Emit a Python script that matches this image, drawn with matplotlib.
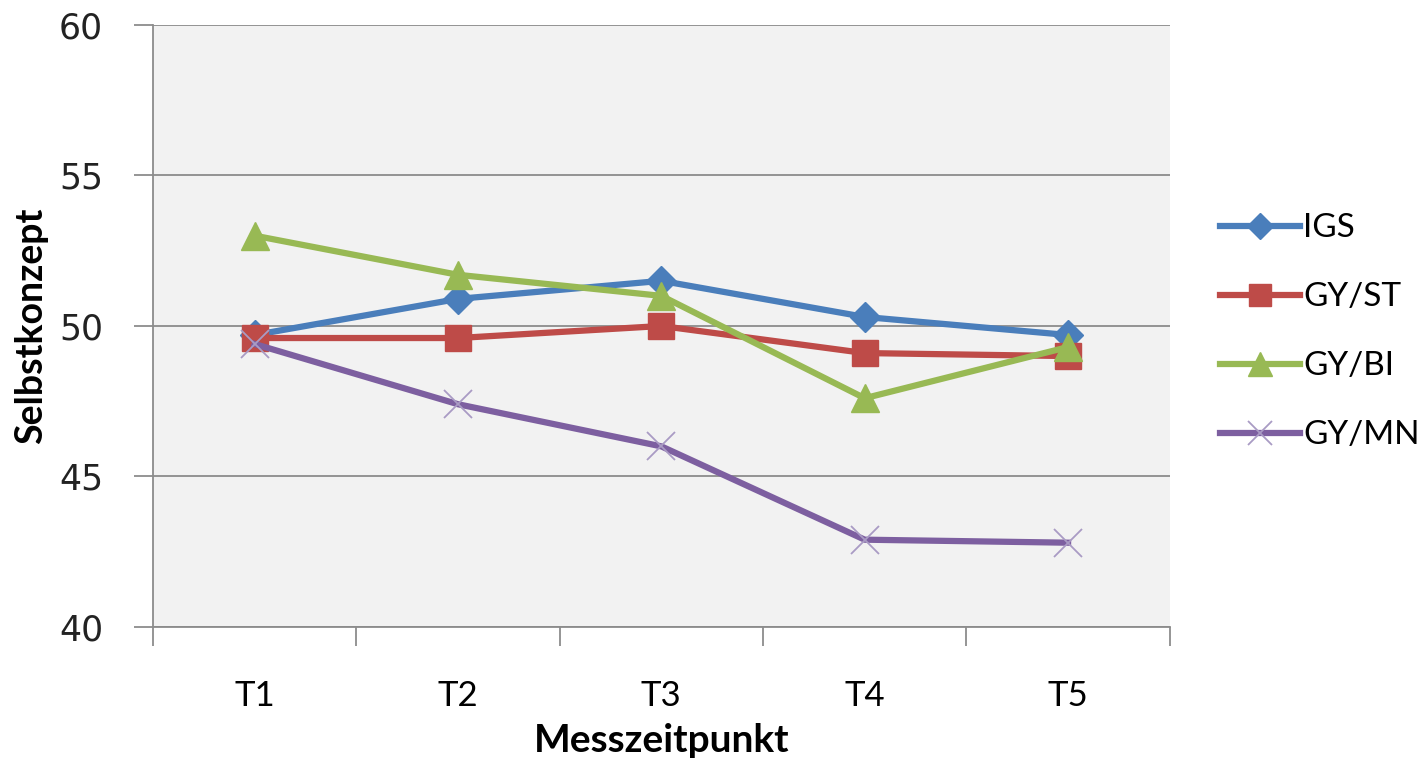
import matplotlib
matplotlib.use("Agg")
import matplotlib.pyplot as plt
import numpy as np

categories = ["T1", "T2", "T3", "T4", "T5"]
igs = [49.7, 50.9, 51.5, 50.3, 49.7]
gy_st = [49.6, 49.6, 50.0, 49.1, 49.0]
gy_bi = [53.0, 51.7, 51.0, 47.6, 49.3]
gy_mn = [49.4, 47.4, 46.0, 42.9, 42.8]
series_names = ["IGS", "GY/ST", "GY/BI", "GY/MN"]
yticks = [40, 45, 50, 55, 60]

fig = plt.figure(figsize=(14.22, 7.71), dpi=100)
ax = fig.add_axes([0.1076, 0.1868, 0.715, 0.7808])
ax.set_facecolor("#f2f2f2")

x = np.arange(len(categories))
ax.plot(x, igs, color="#4a7ebb", lw=4.5, marker="D", ms=15, label=series_names[0], zorder=3)
ax.plot(x, gy_st, color="#be4b48", lw=4.5, marker="s", ms=19, label=series_names[1], zorder=3)
ax.plot(x, gy_bi, color="#98b954", lw=4.5, marker="^", ms=20, label=series_names[2], zorder=3)
ax.plot(x, gy_mn, color="#7d5fa0", lw=4.5, marker="x", ms=20, mew=1.3, mec="#a99bc4",
        label=series_names[3], zorder=3)

ax.set_xlim(-0.5, len(categories) - 0.5)
ax.set_ylim(40, 60)
ax.set_yticks(yticks)
ax.set_yticklabels([str(v) for v in yticks], fontsize=25, family="DejaVu Sans", color="#222222")
ax.yaxis.grid(True, color="#8c8c8c", lw=1.3)
ax.set_axisbelow(True)
ax.tick_params(axis="y", length=14, width=1.3, color="#8c8c8c", pad=22)

ax.set_xticks(np.arange(-0.5, len(categories), 1.0))
ax.set_xticklabels([])
ax.set_xticks(x, minor=True)
ax.set_xticklabels(categories, minor=True, fontsize=25, family="Lato")
ax.tick_params(axis="x", which="major", length=14, width=1.3, color="#8c8c8c")
ax.tick_params(axis="x", which="minor", length=0, pad=38)

for s in ["top", "right"]:
    ax.spines[s].set_visible(False)
for s in ["left", "bottom"]:
    ax.spines[s].set_color("#8c8c8c")
    ax.spines[s].set_linewidth(1.3)

ax.set_xlabel("Messzeitpunkt", fontsize=28, fontweight="bold", family="Lato", labelpad=8)
ax.set_ylabel("Selbstkonzept", fontsize=27, fontweight="bold", family="Lato", labelpad=8)

leg = ax.legend(loc="center left", bbox_to_anchor=(1.02, 0.49), frameon=False,
                prop={"family": "Lato", "size": 24}, handlelength=2.4, labelspacing=1.17,
                handletextpad=0.1, markerscale=0.85)

fig.savefig("out.png", dpi=100)
